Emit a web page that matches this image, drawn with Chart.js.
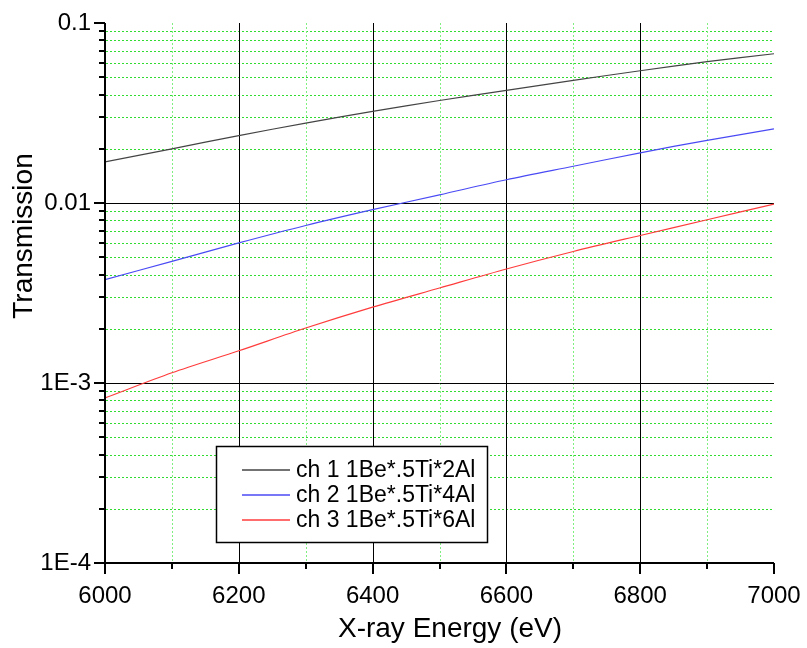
<!DOCTYPE html>
<html>
<head>
<meta charset="utf-8">
<title>Transmission</title>
<script src="https://cdn.jsdelivr.net/npm/chart.js@4.4.0/dist/chart.umd.min.js"></script>
<style>
  html, body { margin: 0; padding: 0; background: #fff; }
  #wrap { width: 807px; height: 648px; }
</style>
</head>
<body>
<div id="wrap"><canvas id="myChart" width="807" height="648"></canvas></div>
<script>
var energies = [6000, 6100, 6200, 6300, 6400, 6500, 6600, 6700, 6800, 6900, 7000];
var ch1 = [0.0169, 0.0200, 0.0237, 0.0278, 0.0323, 0.0371, 0.0422, 0.0480, 0.0543, 0.0610, 0.0675];
var ch2 = [0.00375, 0.00474, 0.0060, 0.0075, 0.00918, 0.0111, 0.01347, 0.0160, 0.0190, 0.0223, 0.0258];
var ch3 = [0.000826, 0.00114, 0.00151, 0.00202, 0.00264, 0.00337, 0.00430, 0.00538, 0.0066, 0.00807, 0.00987];

var seriesNames = ['ch 1 1Be*.5Ti*2Al', 'ch 2 1Be*.5Ti*4Al', 'ch 3 1Be*.5Ti*6Al'];

var yDecades = [0.0001, 0.001, 0.01, 0.1];
var yLabels = ['1E-4', '1E-3', '0.01', '0.1'];
var xMajor = [6000, 6200, 6400, 6600, 6800, 7000];
var xMinor = [6100, 6300, 6500, 6700, 6900];

var FONT = '"Liberation Sans", Arial, sans-serif';

function crisp(v) { return Math.round(v) + 0.5; }

// grid, axes, ticks, titles and legend box
var framePlugin = {
    id: 'frame',
    beforeDatasetsDraw: function(chart) {
        var ctx = chart.ctx, a = chart.chartArea;
        var xs = chart.scales.x, ys = chart.scales.y;
        ctx.save();

        // minor dotted grid
        ctx.strokeStyle = '#2fdc2f';
        ctx.lineWidth = 1;
        ctx.setLineDash([2, 2]);
        ctx.beginPath();
        yDecades.slice(0, 3).forEach(function(d) {
            for (var m = 2; m <= 9; m++) {
                var y = crisp(ys.getPixelForValue(m * d));
                ctx.moveTo(a.left + 1, y);
                ctx.lineTo(a.right, y);
            }
        });
        ctx.stroke();
        ctx.strokeStyle = '#80ee80';
        ctx.beginPath();
        xMinor.forEach(function(v) {
            var x = crisp(xs.getPixelForValue(v));
            ctx.moveTo(x, a.top);
            ctx.lineTo(x, a.bottom);
        });
        ctx.stroke();

        // major solid grid
        ctx.setLineDash([]);
        ctx.strokeStyle = '#000';
        ctx.beginPath();
        [0.001, 0.01].forEach(function(v) {
            var y = crisp(ys.getPixelForValue(v));
            ctx.moveTo(a.left, y);
            ctx.lineTo(a.right, y);
        });
        xMajor.slice(1, -1).forEach(function(v) {
            var x = crisp(xs.getPixelForValue(v));
            ctx.moveTo(x, a.top);
            ctx.lineTo(x, a.bottom);
        });
        ctx.stroke();
        ctx.restore();
    },
    afterDatasetsDraw: function(chart) {
        var ctx = chart.ctx, a = chart.chartArea;
        var xs = chart.scales.x, ys = chart.scales.y;
        ctx.save();

        // axis lines and tick marks
        ctx.strokeStyle = '#000';
        ctx.lineWidth = 2;
        ctx.beginPath();
        ctx.moveTo(a.left, a.top);
        ctx.lineTo(a.left, a.bottom);
        ctx.lineTo(a.right, a.bottom);
        yDecades.forEach(function(d, i) {
            var y = Math.round(ys.getPixelForValue(d));
            ctx.moveTo(a.left - 11, y);
            ctx.lineTo(a.left, y);
            if (i < 3) {
                for (var m = 2; m <= 9; m++) {
                    var ym = Math.round(ys.getPixelForValue(m * d));
                    ctx.moveTo(a.left - 6, ym);
                    ctx.lineTo(a.left, ym);
                }
            }
        });
        xMajor.forEach(function(v) {
            var x = Math.round(xs.getPixelForValue(v));
            ctx.moveTo(x, a.bottom);
            ctx.lineTo(x, a.bottom + 11);
        });
        xMinor.forEach(function(v) {
            var x = Math.round(xs.getPixelForValue(v));
            ctx.moveTo(x, a.bottom);
            ctx.lineTo(x, a.bottom + 6);
        });
        ctx.stroke();

        // axis titles
        ctx.fillStyle = '#000';
        ctx.font = '28px ' + FONT;
        ctx.textAlign = 'center';
        ctx.textBaseline = 'middle';
        ctx.fillText('X-ray Energy (eV)', 450, 629);
        ctx.save();
        ctx.translate(24, 236);
        ctx.rotate(-Math.PI / 2);
        ctx.fillText('Transmission', 0, 0);
        ctx.restore();

        // legend
        var bx = 216.5, by = 446.5, bw = 271, bh = 96;
        ctx.fillStyle = '#fff';
        ctx.fillRect(bx, by, bw, bh);
        ctx.lineWidth = 1.5;
        ctx.strokeStyle = '#000';
        ctx.strokeRect(bx, by, bw, bh);
        ctx.font = '23px ' + FONT;
        ctx.textAlign = 'left';
        chart.data.datasets.forEach(function(ds, i) {
            var y = 470 + i * 25;
            ctx.strokeStyle = ds.borderColor;
            ctx.lineWidth = 1.6;
            ctx.beginPath();
            ctx.moveTo(242, y);
            ctx.lineTo(290, y);
            ctx.stroke();
            ctx.fillStyle = '#000';
            ctx.fillText(ds.label, 296, y + 1);
        });
        ctx.restore();
    }
};

var ctx = document.getElementById('myChart').getContext('2d');

var myChart = new Chart(ctx, {
    type: 'line',
    data: {
        labels: energies,
        datasets: [{
            label: seriesNames[0],
            data: energies.map(function(e, i) { return { x: e, y: ch1[i] }; }),
            borderColor: '#444444',
            borderWidth: 1.2
        }, {
            label: seriesNames[1],
            data: energies.map(function(e, i) { return { x: e, y: ch2[i] }; }),
            borderColor: '#4a4af5',
            borderWidth: 1.2
        }, {
            label: seriesNames[2],
            data: energies.map(function(e, i) { return { x: e, y: ch3[i] }; }),
            borderColor: '#ff3c3c',
            borderWidth: 1.2
        }]
    },
    options: {
        responsive: false,
        animation: false,
        events: [],
        layout: { padding: { top: 23, right: 33, left: 0, bottom: 0 } },
        elements: { point: { radius: 0 }, line: { tension: 0.3 } },
        plugins: {
            legend: { display: false },
            tooltip: { enabled: false }
        },
        scales: {
            x: {
                type: 'linear',
                min: 6000,
                max: 7000,
                afterFit: function(scale) {
                    scale.height = 85;
                    scale.paddingLeft = 0;
                    scale.paddingRight = 0;
                },
                afterBuildTicks: function(scale) {
                    scale.ticks = xMajor.map(function(v) { return { value: v }; });
                },
                grid: { display: false, drawTicks: false },
                border: { display: false },
                ticks: {
                    padding: 19,
                    color: '#000',
                    maxRotation: 0,
                    font: { family: FONT, size: 24 },
                    callback: function(v) { return String(v); }
                }
            },
            y: {
                type: 'logarithmic',
                min: 0.0001,
                max: 0.1,
                afterFit: function(scale) {
                    scale.width = 105;
                    scale.paddingTop = 0;
                    scale.paddingBottom = 0;
                },
                afterBuildTicks: function(scale) {
                    scale.ticks = yDecades.map(function(v) { return { value: v }; });
                },
                grid: { display: false, drawTicks: false },
                border: { display: false },
                ticks: {
                    padding: 14,
                    color: '#000',
                    font: { family: FONT, size: 24 },
                    callback: function(v, index) { return yLabels[index]; }
                }
            }
        }
    },
    plugins: [framePlugin]
});
</script>
</body>
</html>
